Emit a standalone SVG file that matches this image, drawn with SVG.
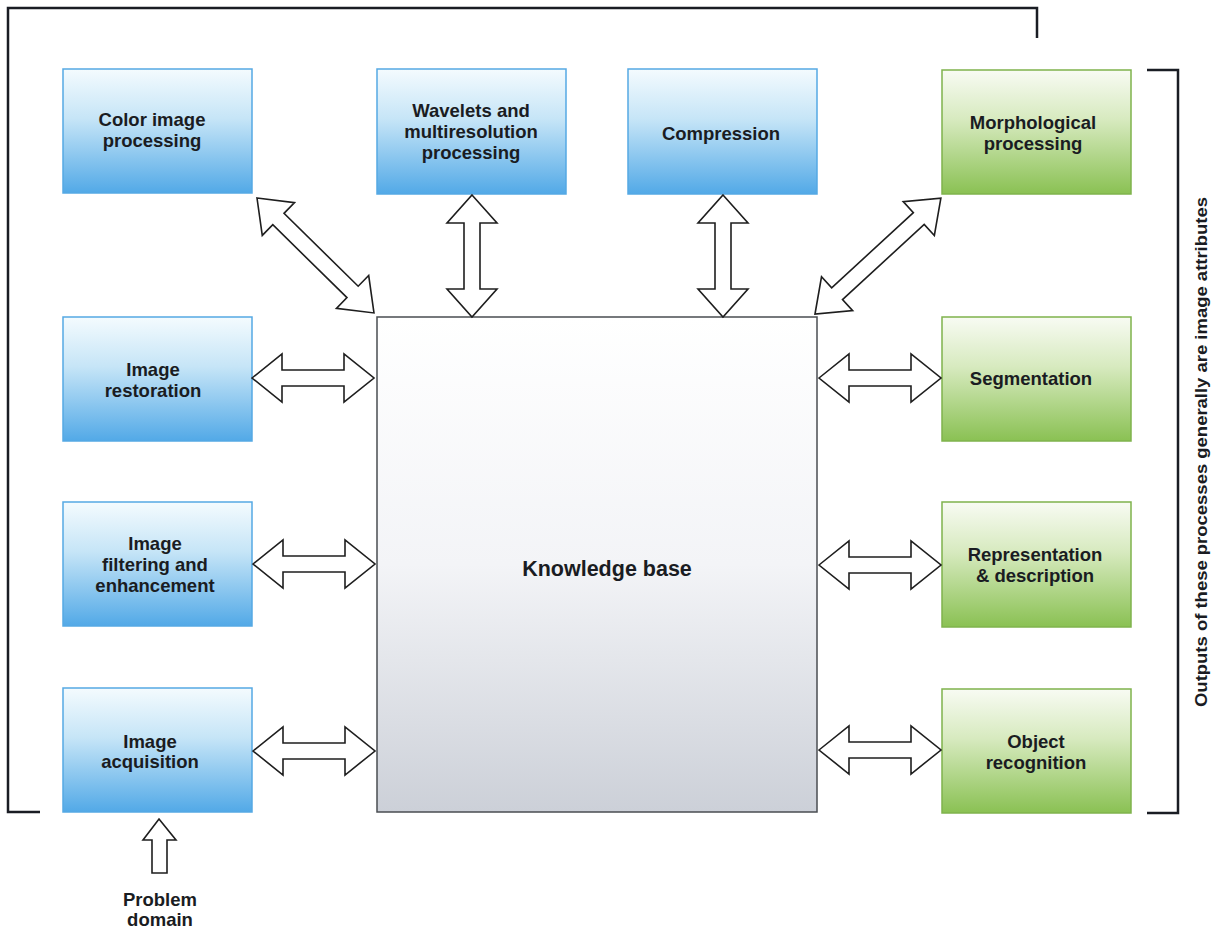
<svg xmlns="http://www.w3.org/2000/svg" width="1219" height="928" viewBox="0 0 1219 928">
<defs>
<linearGradient id="gBlue" x1="0" y1="0" x2="0" y2="1">
<stop offset="0" stop-color="#f4fbfe"/>
<stop offset="0.4" stop-color="#c6e5f7"/>
<stop offset="1" stop-color="#52a9e7"/>
</linearGradient>
<linearGradient id="gGreen" x1="0" y1="0" x2="0" y2="1">
<stop offset="0" stop-color="#f8fbf3"/>
<stop offset="0.4" stop-color="#d7eabf"/>
<stop offset="1" stop-color="#8ac153"/>
</linearGradient>
<linearGradient id="gGray" x1="0" y1="0" x2="0" y2="1">
<stop offset="0" stop-color="#ffffff"/>
<stop offset="0.5" stop-color="#f3f4f7"/>
<stop offset="1" stop-color="#ccd0d8"/>
</linearGradient>
<path id="h122" d="M0,0 L30,-24 L30,-8 L92,-8 L92,-24 L122,0 L92,24 L92,8 L30,8 L30,24 Z"/>
<path id="v122" d="M0,0 L25,28 L8,28 L8,94 L25,94 L0,122 L-25,94 L-8,94 L-8,28 L-25,28 Z"/>
</defs>
<style>
.blue{fill:url(#gBlue);stroke:#55a9e4;stroke-width:1.5}
.green{fill:url(#gGreen);stroke:#7fb34c;stroke-width:1.5}
.kb{fill:url(#gGray);stroke:#4a4d52;stroke-width:1.5}
.lbl{font-family:"Liberation Sans",Arial,sans-serif;font-weight:bold;font-size:18.5px;fill:#1a1c22;text-anchor:middle}
.arr{fill:#ffffff;stroke:#1e1e1e;stroke-width:1.6;stroke-linejoin:miter}
.brk{fill:none;stroke:#1a1d24;stroke-width:2.5}
</style>
<rect width="1219" height="928" fill="#ffffff"/>

<g id="brackets">
<path class="brk" d="M40,812 L8,812 L8,8 L1037,8 L1037,38"/>
<path class="brk" d="M1147,70 L1178,70 L1178,813 L1147,813"/>
</g>

<g id="kb">
<rect class="kb" x="377" y="317" width="440" height="495"/>
<text class="lbl" x="607" y="576" style="font-size:21.5px">Knowledge base</text>
</g>

<g id="color">
<rect class="blue" x="63" y="69" width="189" height="124"/>
<text class="lbl" x="152" y="126">Color image</text>
<text class="lbl" x="152" y="147">processing</text>
</g>
<g id="wavelets">
<rect class="blue" x="377" y="69" width="189" height="125"/>
<text class="lbl" x="471" y="117">Wavelets and</text>
<text class="lbl" x="471" y="138">multiresolution</text>
<text class="lbl" x="471" y="159">processing</text>
</g>
<g id="compression">
<rect class="blue" x="628" y="69" width="189" height="125"/>
<text class="lbl" x="721" y="140">Compression</text>
</g>
<g id="morph">
<rect class="green" x="942" y="70" width="189" height="124"/>
<text class="lbl" x="1033" y="129">Morphological</text>
<text class="lbl" x="1033" y="150">processing</text>
</g>
<g id="restoration">
<rect class="blue" x="63" y="317" width="189" height="124"/>
<text class="lbl" x="153" y="376">Image</text>
<text class="lbl" x="153" y="397">restoration</text>
</g>
<g id="filtering">
<rect class="blue" x="63" y="502" width="189" height="124"/>
<text class="lbl" x="155" y="550">Image</text>
<text class="lbl" x="155" y="571">filtering and</text>
<text class="lbl" x="155" y="592">enhancement</text>
</g>
<g id="acquisition">
<rect class="blue" x="63" y="688" width="189" height="124"/>
<text class="lbl" x="150" y="748">Image</text>
<text class="lbl" x="150" y="768">acquisition</text>
</g>
<g id="segmentation">
<rect class="green" x="942" y="317" width="189" height="124"/>
<text class="lbl" x="1031" y="385">Segmentation</text>
</g>
<g id="representation">
<rect class="green" x="942" y="502" width="189" height="125"/>
<text class="lbl" x="1035" y="561">Representation</text>
<text class="lbl" x="1035" y="582">&amp; description</text>
</g>
<g id="recognition">
<rect class="green" x="942" y="689" width="189" height="124"/>
<text class="lbl" x="1036" y="748">Object</text>
<text class="lbl" x="1036" y="769">recognition</text>
</g>
<g id="problem">
<text class="lbl" x="160" y="906">Problem</text>
<text class="lbl" x="160" y="926">domain</text>
</g>
<g id="outputs-label">
<text class="lbl" transform="translate(1207,452) rotate(-90)" style="font-size:17px" textLength="510" lengthAdjust="spacingAndGlyphs">Outputs of these processes generally are image attributes</text>
</g>

<g id="connectors">
<use href="#h122" class="arr" transform="translate(252,378)"/>
<use href="#h122" class="arr" transform="translate(253,564)"/>
<use href="#h122" class="arr" transform="translate(253,751)"/>
<use href="#h122" class="arr" transform="translate(819,378)"/>
<use href="#h122" class="arr" transform="translate(819,565)"/>
<use href="#h122" class="arr" transform="translate(819,750)"/>
<use href="#v122" class="arr" transform="translate(472,195)"/>
<use href="#v122" class="arr" transform="translate(723,195)"/>
<path class="arr" transform="translate(257,198) rotate(44.5)" d="M0,0 L30,-23 L30,-8 L134,-8 L134,-23 L164,0 L134,23 L134,8 L30,8 L30,23 Z"/>
<path class="arr" transform="translate(815,314) rotate(-42.6)" d="M0,0 L30,-23 L30,-8 L141,-8 L141,-23 L171,0 L141,23 L141,8 L30,8 L30,23 Z"/>
<path class="arr" d="M159,819 L176,840 L167,840 L167,873 L152,873 L152,840 L143,840 Z"/>
</g>
</svg>
